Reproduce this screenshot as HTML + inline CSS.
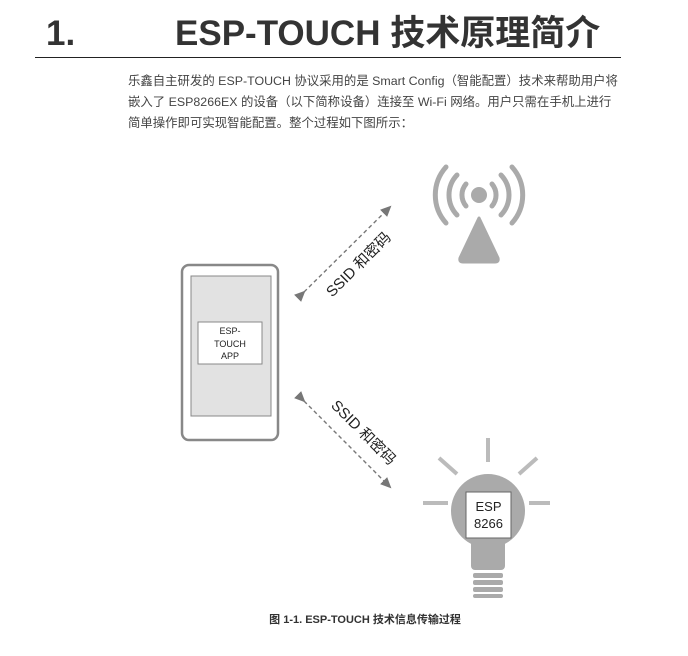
<!DOCTYPE html>
<html><head><meta charset="utf-8"><style>
body{margin:0;width:688px;height:656px;background:#fff;position:relative;font-family:"Liberation Sans","Noto Sans CJK SC",sans-serif;overflow:hidden}
.t{position:absolute;white-space:nowrap}
</style></head><body>
<div style="position:absolute;left:35px;top:57px;width:586px;height:1px;background:#222"></div>
<div class="t" style="left:128px;top:71px;font-size:12.4px;line-height:21px;color:#444">乐鑫自主研发的 ESP-TOUCH 协议采用的是 Smart Config（智能配置）技术来帮助用户将<br>嵌入了 ESP8266EX 的设备（以下简称设备）连接至 Wi-Fi 网络。用户只需在手机上进行<br>简单操作即可实现智能配置。整个过程如下图所示：</div>
<svg width="688" height="656" style="position:absolute;left:0;top:0">
<defs><marker id="a" markerWidth="12" markerHeight="12" refX="9" refY="5" orient="auto" markerUnits="userSpaceOnUse"><path d="M0,0 L11,5 L0,10z" fill="#777"/></marker></defs>
<text x="46" y="45" font-size="35" font-weight="bold" fill="#333">1.</text>
<text x="175" y="45" font-size="35" font-weight="bold" fill="#333">ESP-TOUCH 技术原理简介</text>
<rect x="182" y="265" width="96" height="175" rx="7" fill="#fff" stroke="#888" stroke-width="2.5"/>
<rect x="191" y="276" width="80" height="140" fill="#e2e2e2" stroke="#888"/>
<rect x="198" y="322" width="64" height="42" fill="#fff" stroke="#888"/>
<text x="230" y="334" font-size="9" text-anchor="middle" fill="#222">ESP-</text>
<text x="230" y="347" font-size="9" text-anchor="middle" fill="#222">TOUCH</text>
<text x="230" y="359" font-size="9" text-anchor="middle" fill="#222">APP</text>
<line x1="304" y1="292" x2="390" y2="207" stroke="#777" stroke-width="1.4" stroke-dasharray="4,3" marker-start="url(#a)" marker-end="url(#a)"/>
<line x1="304" y1="401" x2="390" y2="487" stroke="#777" stroke-width="1.4" stroke-dasharray="4,3" marker-start="url(#a)" marker-end="url(#a)"/>
<text x="0" y="0" font-size="15" text-anchor="middle" fill="#222" transform="translate(362,268) rotate(-45)">SSID 和密码</text>
<text x="0" y="0" font-size="15" text-anchor="middle" fill="#222" transform="translate(360,436) rotate(45)">SSID 和密码</text>
<g fill="none" stroke="#aaa" stroke-width="5" stroke-linecap="round">
<circle cx="479" cy="195" r="8" fill="#aaa" stroke="none"/>
<path d="M466,184 A17,17 0 0 0 466,206"/><path d="M492,184 A17,17 0 0 1 492,206"/>
<path d="M457,175 A29,29 0 0 0 457,215"/><path d="M501,175 A29,29 0 0 1 501,215"/>
<path d="M446,167 A42,42 0 0 0 446,223"/><path d="M512,167 A42,42 0 0 1 512,223"/>
</g>
<path d="M479,218 L498,258 Q499,262 495,262 L463,262 Q459,262 460,258 Z" fill="#aaa" stroke="#aaa" stroke-width="3" stroke-linejoin="round"/>
<g stroke="#bbb" stroke-width="4">
<line x1="488" y1="438" x2="488" y2="462"/><line x1="439" y1="458" x2="457" y2="474"/><line x1="537" y1="458" x2="519" y2="474"/>
<line x1="423" y1="503" x2="448" y2="503"/><line x1="529" y1="503" x2="550" y2="503"/>
</g>
<circle cx="488" cy="511" r="37" fill="#aaa"/>
<rect x="471" y="530" width="34" height="40" rx="4" fill="#aaa"/>
<g fill="#aaa"><rect x="473" y="573" width="30" height="5" rx="2"/><rect x="473" y="580" width="30" height="5" rx="2"/><rect x="473" y="587" width="30" height="5" rx="2"/><rect x="473" y="594" width="30" height="4" rx="2"/></g>
<rect x="466" y="492" width="45" height="46" fill="#fff" stroke="#666"/>
<text x="488.5" y="511" font-size="13" text-anchor="middle" fill="#222">ESP</text>
<text x="488.5" y="528" font-size="13" text-anchor="middle" fill="#222">8266</text>
<text x="365" y="623" font-size="11" font-weight="bold" text-anchor="middle" fill="#333">图 1-1. ESP-TOUCH 技术信息传输过程</text>
</svg>
</body></html>
